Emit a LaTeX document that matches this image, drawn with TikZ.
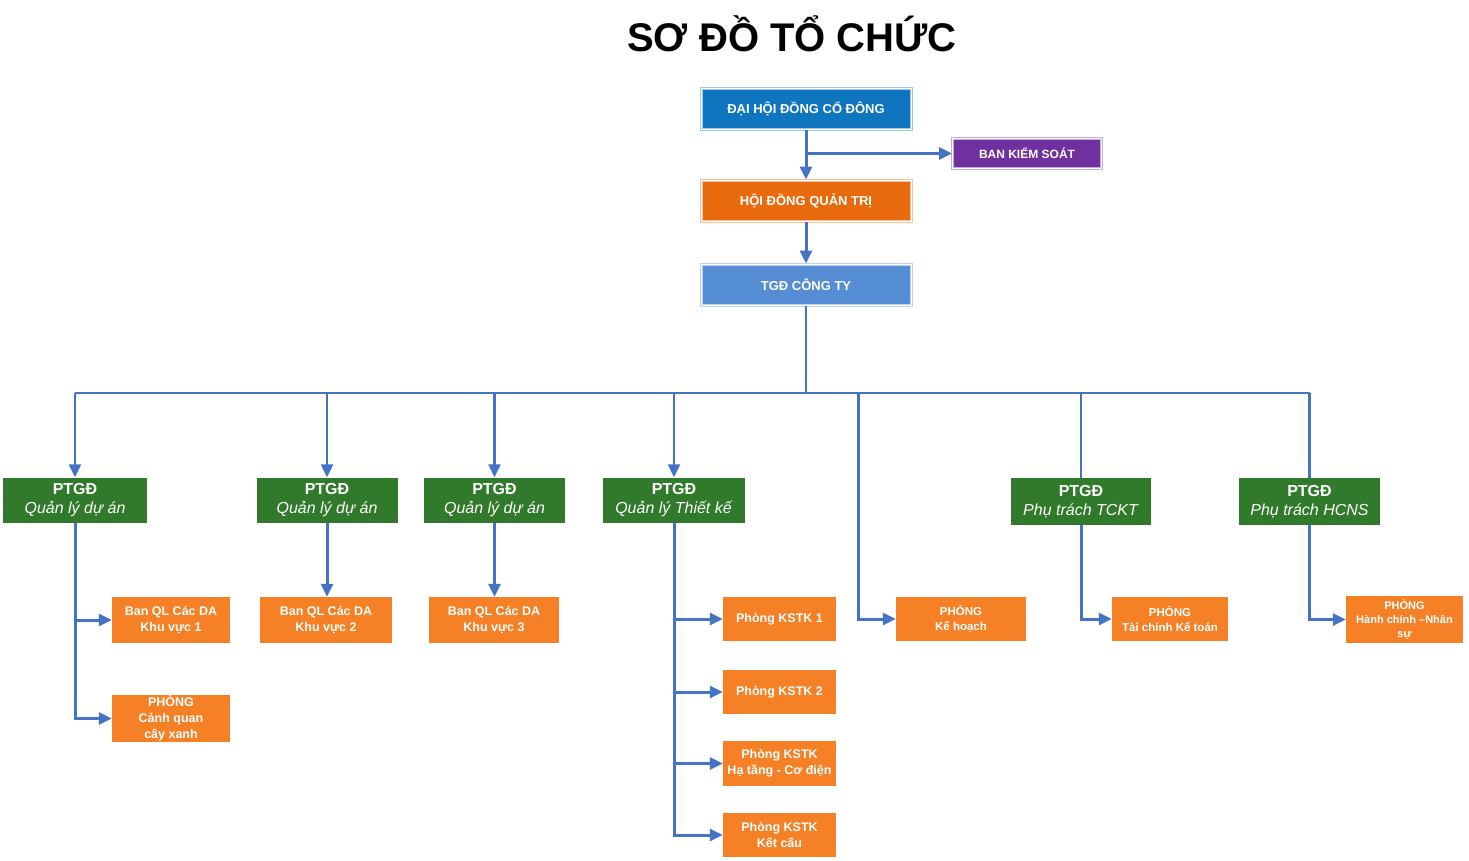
\documentclass[tikz,border=0pt]{standalone}
\usepackage{fontspec}
\setmainfont{Liberation Sans}
\usetikzlibrary{arrows.meta}

\definecolor{dhblue}{RGB}{16,117,191}
\definecolor{hdorange}{RGB}{232,106,12}
\definecolor{tgdblue}{RGB}{85,141,213}
\definecolor{bkspurple}{RGB}{112,48,160}
\definecolor{ptgreen}{RGB}{49,122,43}
\definecolor{phorange}{RGB}{245,128,37}
\definecolor{linkblue}{RGB}{68,114,196}

\tikzset{
  topbox/.style={text=white, font=\fontsize{13}{15}\selectfont\bfseries,
    minimum width=210pt, minimum height=41pt, inner sep=0pt,
    draw=#1!40, double=white, double distance=1pt, line width=1pt},
  ptgd/.style={fill=ptgreen, text=white, align=center, inner sep=0pt,
    font=\fontsize{16}{19}\selectfont, minimum height=45pt},
  phong/.style={fill=phorange, text=white, align=center, inner sep=0pt,
    font=\fontsize{12.5}{16}\selectfont\bfseries, minimum height=45pt},
  conn/.style={linkblue, line width=3pt, -{Triangle[length=13pt,width=12pt]}},
  bus/.style={linkblue, line width=2.2pt},
}

\begin{document}
\begin{tikzpicture}[x=1pt, y=-1pt]
    \useasboundingbox (0,0) rectangle (1469,860);

    % title
    \node[font=\fontsize{40}{46}\selectfont\bfseries] (title) at (792,34) {SƠ ĐỒ TỔ CHỨC};

    % top levels
    \node[topbox=dhblue, fill=dhblue] (dhdcd) at (806,109) {ĐẠI HỘI ĐỒNG CỔ ĐÔNG};
    \node[topbox=bkspurple, fill=bkspurple, minimum width=149pt, minimum height=30pt,
      font=\fontsize{12}{14}\selectfont\bfseries] (bks) at (1027,153.5) {BAN KIỂM SOÁT};
    \node[topbox=hdorange, fill=hdorange] (hdqt) at (806,200.5) {HỘI ĐỒNG QUẢN TRỊ};
    \node[topbox=tgdblue, fill=tgdblue] (tgd) at (806,284.5) {TGĐ CÔNG TY};

    \draw[conn] (dhdcd) -- (hdqt);
    \draw[conn] (dhdcd.south |- bks.west) -- (bks.west);
    \draw[conn] (hdqt) -- (tgd);

    % PTGD row
    \node[ptgd, minimum width=144pt] (pqlda1) at (75,500) {\textbf{PTGĐ}\\\textit{Quản lý dự án}};
    \node[ptgd, minimum width=141pt] (pqlda2) at (327,500) {\textbf{PTGĐ}\\\textit{Quản lý dự án}};
    \node[ptgd, minimum width=141pt] (pqlda3) at (494.5,500) {\textbf{PTGĐ}\\\textit{Quản lý dự án}};
    \node[ptgd, minimum width=142pt] (ptk) at (674,500) {\textbf{PTGĐ}\\\textit{Quản lý Thiết kế}};
    \node[ptgd, minimum width=140pt, minimum height=47pt] (ptckt) at (1081,501.5) {\textbf{PTGĐ}\\\textit{Phụ trách TCKT}};
    \node[ptgd, minimum width=141pt, minimum height=47pt] (phcns) at (1309.5,501.5) {\textbf{PTGĐ}\\\textit{Phụ trách HCNS}};

    % bus from TGD
    \coordinate (busc) at (806,393);
    \coordinate (khbus) at (858,393);
    \draw[bus] (tgd.south) -- (busc);
    \draw[bus] (pqlda1.north |- busc) -- (phcns.north |- busc);
    \foreach \n in {pqlda1, pqlda2, pqlda3, ptk} {
        \draw[conn, line width=2.2pt] (\n.north |- busc) -- (\n.north);
    }
    \draw[bus] (ptckt.north |- busc) -- (ptckt.north);
    \draw[bus] (phcns.north |- busc) -- (phcns.north);

    % departments
    \node[phong, minimum width=118pt, minimum height=46pt] (banql1) at (171,620) {Ban QL Các DA\\Khu vực 1};
    \node[phong, minimum width=118pt, minimum height=47pt] (cquan) at (171,718.5) {PHÒNG\\Cảnh quan\\cây xanh};
    \node[phong, minimum width=132pt, minimum height=46pt] (banql2) at (326,620) {Ban QL Các DA\\Khu vực 2};
    \node[phong, minimum width=130pt, minimum height=46pt] (banql3) at (494,620) {Ban QL Các DA\\Khu vực 3};
    \node[phong, minimum width=113pt, minimum height=44pt] (kstk1) at (779.5,619) {Phòng KSTK 1};
    \node[phong, minimum width=113pt, minimum height=44pt] (kstk2) at (779.5,692) {Phòng KSTK 2};
    \node[phong, minimum width=113pt, minimum height=45pt] (kstk3) at (779.5,763.5) {Phòng KSTK\\Hạ tầng - Cơ điện};
    \node[phong, minimum width=113pt, minimum height=44pt] (kstk4) at (779.5,835) {Phòng KSTK\\Kết cấu};
    \node[phong, minimum width=130pt, minimum height=44pt, font=\fontsize{11.5}{15}\selectfont\bfseries] (khoach) at (961,619) {PHÒNG\\Kế hoạch};
    \node[phong, minimum width=116pt, minimum height=44pt, font=\fontsize{11.5}{15}\selectfont\bfseries] (tckt) at (1170,619) {PHÒNG\\Tài chính Kế toán};
    \node[phong, minimum width=117pt, minimum height=47pt, font=\fontsize{11}{14}\selectfont\bfseries] (hcns) at (1404.5,619.5) {PHÒNG\\Hành chính --Nhân\\sự};

    % links to departments
    \draw[conn] (pqlda1.south) |- (cquan.west);
    \draw[conn] (pqlda1.south |- banql1.west) -- (banql1.west);
    \draw[conn] (pqlda2.south) -- (pqlda2.south |- banql2.north);
    \draw[conn] (pqlda3.south) -- (pqlda3.south |- banql3.north);
    \draw[conn] (ptk.south) |- (kstk4.west);
    \foreach \k in {kstk1, kstk2, kstk3} {
        \draw[conn] (ptk.south |- \k.west) -- (\k.west);
    }
    \draw[conn] (khbus) |- (khoach.west);
    \draw[conn] (ptckt.south) |- (tckt.west);
    \draw[conn] (phcns.south) |- (hcns.west);

\end{tikzpicture}
\end{document}
